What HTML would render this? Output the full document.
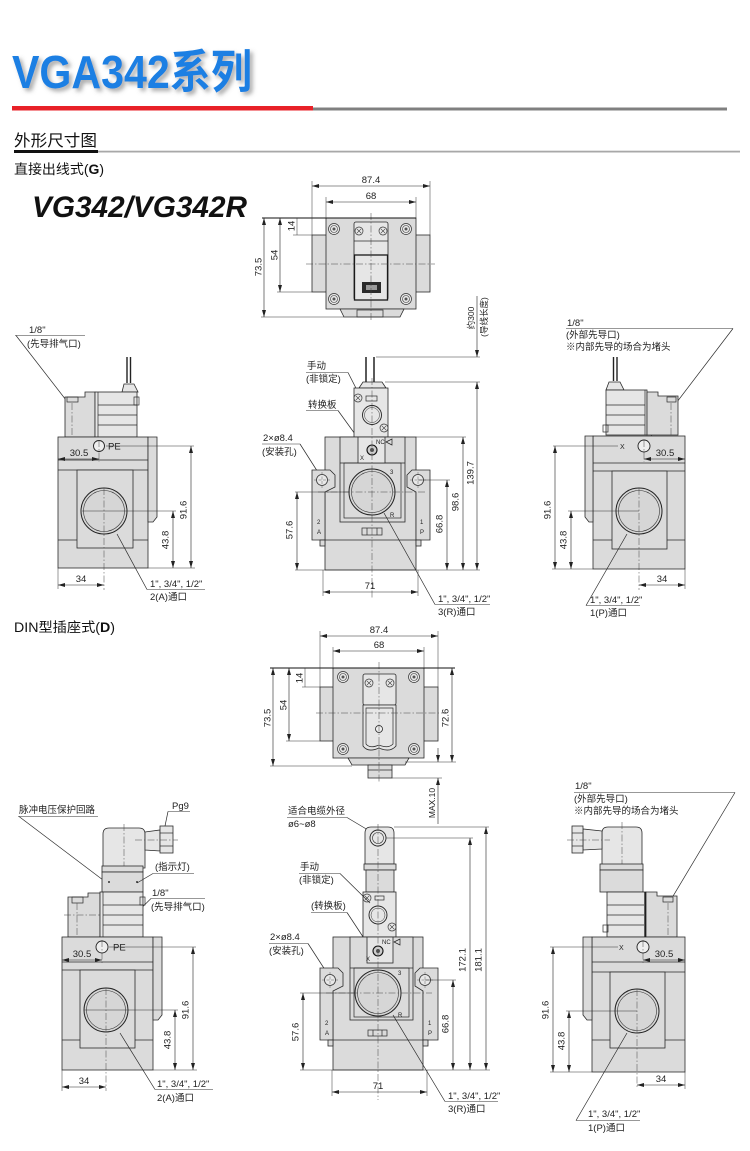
<!DOCTYPE html>
<html><head><meta charset="utf-8">
<style>
html,body{margin:0;padding:0;background:#fff;}
svg{display:block}
.o{fill:#dbdbdb;stroke:#2a2a2a;stroke-width:.8}
.w{fill:#e6e6e6;stroke:#2a2a2a;stroke-width:.8}
.ln{fill:none;stroke:#2a2a2a;stroke-width:.7}
.th{fill:none;stroke:#1a1a1a;stroke-width:1.3}
.d{stroke:#222;stroke-width:.6;fill:none;marker-start:url(#a);marker-end:url(#a)}
.d1{stroke:#222;stroke-width:.6;fill:none;marker-end:url(#a)}
.e{stroke:#333;stroke-width:.5;fill:none}
.c{stroke:#444;stroke-width:.5;fill:none;stroke-dasharray:7 2 1.5 2}
.t{font-family:"Liberation Sans",sans-serif;font-size:9.5px;fill:#222}
.k{font-family:"Liberation Sans","Noto Sans CJK SC",sans-serif;font-size:9.5px;fill:#222}
.s{font-family:"Liberation Sans",sans-serif;font-size:6px;fill:#222}
</style></head><body>
<svg width="750" height="1151" viewBox="0 0 750 1151" xmlns="http://www.w3.org/2000/svg">
<defs>
<marker id="a" markerWidth="7" markerHeight="4" refX="7" refY="2" orient="auto-start-reverse" markerUnits="userSpaceOnUse"><path d="M0,0 L7,2 L0,4 z" fill="#222"/></marker>
<filter id="sh" x="-5%" y="-20%" width="115%" height="160%"><feDropShadow dx="3" dy="3" stdDeviation="2" flood-color="#666" flood-opacity=".55"/></filter>
<g id="scr"><circle r="5.5" fill="#e8e8e8" stroke="#333" stroke-width=".7"/><circle r="3.5" fill="none" stroke="#333" stroke-width=".6"/><circle r="1.5" fill="#555"/></g>
<g id="xs"><circle r="4" fill="#e8e8e8" stroke="#333" stroke-width=".7"/><path d="M-2.2,-2.2 L2.2,2.2 M-2.2,2.2 L2.2,-2.2" stroke="#333" stroke-width=".6"/></g>
<g id="hole"><circle r="5.5" fill="#e8e8e8" stroke="#333" stroke-width=".8"/><path d="M-8,0 H8 M0,-8 V8" stroke="#444" stroke-width=".4" stroke-dasharray="3 1.5"/></g>
</defs>

<!-- HEADER -->
<text x="12" y="88" font-family="Liberation Sans,'Noto Sans CJK SC',sans-serif" font-weight="bold" font-size="46" fill="#1b7fe3" textLength="240" lengthAdjust="spacingAndGlyphs" filter="url(#sh)">VGA342系列</text>
<rect x="12" y="106" width="301" height="4.5" fill="#e82128"/>
<rect x="313" y="107.5" width="414" height="3" fill="#808080"/>
<text x="14" y="146" font-family="Liberation Sans,'Noto Sans CJK SC',sans-serif" font-size="16" fill="#111" textLength="83" lengthAdjust="spacingAndGlyphs">外形尺寸图</text>
<rect x="14" y="150" width="84" height="3" fill="#111"/>
<rect x="98" y="150.7" width="642" height="1.8" fill="#a8a8a8"/>
<text x="14" y="174" font-family="Liberation Sans,'Noto Sans CJK SC',sans-serif" font-size="13.5" fill="#111" textLength="90" lengthAdjust="spacingAndGlyphs">直接出线式(<tspan font-weight="bold">G</tspan>)</text>
<text x="32" y="217" font-family="Liberation Sans,sans-serif" font-weight="bold" font-style="italic" font-size="30" fill="#111" textLength="215" lengthAdjust="spacingAndGlyphs">VG342/VG342R</text>

<!-- ===== G TOP VIEW ===== -->
<rect class="o" x="312" y="235" width="118" height="57"/>
<rect class="o" x="326" y="218" width="90" height="91"/>
<path class="o" d="M340,309 L344,317 L400,317 L404,309 Z"/>
<rect class="ln" x="357" y="310" width="26" height="7"/>
<use href="#scr" x="334" y="229"/><use href="#scr" x="406" y="229"/>
<use href="#scr" x="334" y="299"/><use href="#scr" x="406" y="299"/>
<rect class="w" x="354" y="222" width="34" height="78" rx="2"/>
<line class="ln" x1="354" y1="241" x2="388" y2="241"/>
<use href="#xs" x="359" y="231"/><use href="#xs" x="383" y="231"/>
<rect class="th" x="354.5" y="255" width="33" height="45"/>
<rect x="362" y="282" width="19" height="11" fill="#2a2a2a"/>
<rect x="366" y="285" width="11" height="5" fill="#9a9a9a"/>
<line class="c" x1="371" y1="213" x2="371" y2="321"/>
<line class="c" x1="306" y1="264" x2="435" y2="264"/>
<line x1="262" y1="218" x2="416" y2="218" stroke="#111" stroke-width="1"/>
<line class="e" x1="312" y1="181" x2="312" y2="235"/><line class="e" x1="430" y1="181" x2="430" y2="235"/>
<line class="e" x1="326" y1="197" x2="326" y2="218"/><line class="e" x1="416" y1="197" x2="416" y2="218"/>
<line class="d" x1="312" y1="186" x2="430" y2="186"/>
<line class="d" x1="326" y1="202" x2="416" y2="202"/>
<text class="t" x="371" y="183" text-anchor="middle">87.4</text>
<text class="t" x="371" y="199" text-anchor="middle">68</text>
<line class="e" x1="293" y1="235" x2="312" y2="235"/>
<line class="e" x1="277" y1="292" x2="312" y2="292"/>
<line class="e" x1="261" y1="317" x2="344" y2="317"/>
<line class="d" x1="264" y1="218" x2="264" y2="317"/>
<line class="d" x1="280" y1="218" x2="280" y2="292"/>
<line class="e" x1="297" y1="218" x2="297" y2="235"/>
<text class="t" transform="translate(259,267) rotate(-90)" text-anchor="middle" dominant-baseline="central">73.5</text>
<text class="t" transform="translate(275,255) rotate(-90)" text-anchor="middle" dominant-baseline="central">54</text>
<text class="t" transform="translate(292,226) rotate(-90)" text-anchor="middle" dominant-baseline="central">14</text>

<!-- ===== G LEFT VIEW ===== -->
<text class="t" x="29" y="333">1/8"</text>
<line class="e" x1="15" y1="335.5" x2="85" y2="335.5"/>
<text class="k" x="27" y="347">(先导排气口)</text>
<line class="ln" x1="16" y1="335.5" x2="97" y2="440"/>
<line x1="127" y1="357" x2="127" y2="383" stroke="#222" stroke-width="1.4"/>
<line x1="130.5" y1="357" x2="130.5" y2="383" stroke="#222" stroke-width="1.4"/>
<path class="w" d="M122,392 L124,384 L134,384 L138,392 Z"/>
<path class="o" d="M65,397 L85,397 L85,392 L95,392 L95,437 L65,437 Z"/>
<rect class="ln" x="67" y="397" width="11" height="5"/>
<line class="c" x1="72" y1="403" x2="72" y2="437"/>
<rect class="w" x="95" y="392" width="42" height="45"/>
<line class="ln" x1="98" y1="392" x2="98" y2="437"/>
<line class="ln" x1="98" y1="405" x2="137" y2="405"/><line class="ln" x1="98" y1="415" x2="137" y2="415"/><line class="ln" x1="98" y1="425" x2="137" y2="425"/>
<rect class="ln" x="134" y="397" width="5" height="8"/>
<rect class="o" x="58" y="437" width="90" height="131"/>
<path class="o" d="M148,437 L157,437 L157,517 L153,522 L148,522 Z"/>
<line class="ln" x1="58" y1="460" x2="148" y2="460"/>
<line class="ln" x1="58" y1="470" x2="148" y2="470"/>
<line class="ln" x1="58" y1="540" x2="148" y2="540"/>
<rect class="o" x="77" y="470" width="56" height="78"/>
<circle cx="104" cy="511" r="23" fill="#d6d6d6" stroke="#222" stroke-width="1"/>
<circle cx="104" cy="511" r="20.5" fill="none" stroke="#333" stroke-width=".6"/>
<line class="c" x1="104" y1="488" x2="104" y2="590"/>
<line class="e" x1="82" y1="511" x2="176" y2="511"/>
<circle cx="99" cy="446" r="5.5" fill="#eee" stroke="#222" stroke-width=".9"/>
<line class="c" x1="99" y1="440" x2="99" y2="462"/>
<text class="t" x="108" y="449.5">PE</text>
<line class="e" x1="106" y1="446" x2="194" y2="446"/>
<line class="d" x1="58" y1="459" x2="99" y2="459"/>
<text class="t" x="79" y="456" text-anchor="middle">30.5</text>
<line class="d" x1="191" y1="446" x2="191" y2="568"/>
<line class="d" x1="173" y1="511" x2="173" y2="568"/>
<line class="e" x1="148" y1="568" x2="195" y2="568"/>
<text class="t" transform="translate(184,510) rotate(-90)" text-anchor="middle" dominant-baseline="central">91.6</text>
<text class="t" transform="translate(166,540) rotate(-90)" text-anchor="middle" dominant-baseline="central">43.8</text>
<line class="e" x1="58" y1="568" x2="58" y2="589"/>
<line class="d" x1="58" y1="585" x2="104" y2="585"/>
<text class="t" x="81" y="582" text-anchor="middle">34</text>
<line class="ln" x1="117" y1="534" x2="147" y2="589.5"/>
<line class="e" x1="147" y1="589.5" x2="205" y2="589.5"/>
<text class="t" x="150" y="587">1", 3/4", 1/2"</text>
<text class="k" x="150" y="600">2(A)通口</text>

<!-- ===== G CENTER VIEW ===== -->
<text class="k" x="307" y="369">手动</text>
<line class="e" x1="306" y1="372.5" x2="348" y2="372.5"/>
<text class="k" x="306" y="382">(非锁定)</text>
<line class="ln" x1="348" y1="372.5" x2="361" y2="398"/>
<text class="k" x="308" y="408">转换板</text>
<line class="e" x1="306" y1="410.5" x2="338" y2="410.5"/>
<line class="ln" x1="338" y1="410.5" x2="368" y2="452"/>
<text class="t" x="263" y="441">2×ø8.4</text>
<line class="e" x1="262" y1="444" x2="300" y2="444"/>
<text class="k" x="262" y="455">(安装孔)</text>
<line class="ln" x1="300" y1="444" x2="321" y2="477"/>
<line x1="366" y1="357" x2="366" y2="383" stroke="#222" stroke-width="1.5"/>
<line x1="374" y1="357" x2="374" y2="383" stroke="#222" stroke-width="1.5"/>
<path class="w" d="M359,388 L363,382 L382,382 L386,388 Z"/>
<rect class="w" x="354" y="388" width="34" height="49" stroke-width="1.2"/>
<rect class="ln" x="366" y="396" width="11" height="5"/>
<circle cx="372" cy="415" r="9.5" fill="#e6e6e6" stroke="#222" stroke-width=".9"/>
<circle cx="372" cy="415" r="7.5" fill="none" stroke="#333" stroke-width=".5"/>
<use href="#xs" x="358" y="398"/><use href="#xs" x="384" y="428"/>
<rect class="o" x="325" y="437" width="91" height="133"/>
<path class="o" d="M312,470 L330,470 L335,475 L335,487 L325,492 L325,540 L312,540 Z"/>
<path class="o" d="M430,470 L412,470 L407,475 L407,487 L416,492 L416,540 L430,540 Z"/>
<rect class="o" x="320" y="540" width="5" height="6"/><rect class="o" x="416" y="540" width="5" height="6"/>
<line class="ln" x1="325" y1="540" x2="416" y2="540"/>
<use href="#hole" x="322" y="480"/><use href="#hole" x="418" y="480"/>
<rect class="o" x="340" y="437" width="65" height="85"/>
<line class="ln" x1="340" y1="463" x2="405" y2="463"/>
<rect class="ln" x="344" y="463" width="57" height="55"/>
<rect class="w" x="358" y="437" width="27" height="26"/>
<circle cx="372" cy="450" r="5" fill="#ccc" stroke="#111" stroke-width="1.1"/>
<circle cx="372" cy="450" r="2" fill="#555"/>
<text class="s" x="376" y="444">NC</text>
<text class="s" x="360" y="460">X</text>
<path d="M386,442 L392,439 L392,445 Z" fill="none" stroke="#222" stroke-width=".7"/>
<circle cx="372" cy="492" r="23" fill="#d6d6d6" stroke="#222" stroke-width="1"/>
<circle cx="372" cy="492" r="20.5" fill="none" stroke="#333" stroke-width=".6"/>
<text class="s" x="390" y="474">3</text>
<text class="s" x="390" y="517">R</text>
<text class="s" x="317" y="524">2</text><text class="s" x="317" y="534">A</text>
<text class="s" x="420" y="524">1</text><text class="s" x="420" y="534">P</text>
<rect class="ln" x="362" y="528" width="20" height="7"/>
<line class="ln" x1="367" y1="528" x2="367" y2="535"/><line class="ln" x1="377" y1="528" x2="377" y2="535"/>
<line class="c" x1="372" y1="378" x2="372" y2="598"/>
<line class="c" x1="318" y1="492" x2="426" y2="492"/>
<line class="e" x1="295" y1="492" x2="349" y2="492"/>
<line class="d" x1="297" y1="492" x2="297" y2="570"/>
<text class="t" transform="translate(290,530) rotate(-90)" text-anchor="middle" dominant-baseline="central">57.6</text>
<line class="e" x1="418" y1="480" x2="450" y2="480"/>
<line class="d" x1="447" y1="480" x2="447" y2="570"/>
<text class="t" transform="translate(440,524) rotate(-90)" text-anchor="middle" dominant-baseline="central">66.8</text>
<line class="e" x1="416" y1="437" x2="466" y2="437"/>
<line class="d" x1="463" y1="437" x2="463" y2="570"/>
<text class="t" transform="translate(456,502) rotate(-90)" text-anchor="middle" dominant-baseline="central">98.6</text>
<line class="e" x1="385" y1="382" x2="480" y2="382"/>
<line class="e" x1="376" y1="357" x2="480" y2="357"/>
<line class="d" x1="477" y1="382" x2="477" y2="570"/>
<line class="d1" x1="477" y1="296" x2="477" y2="357"/>
<text class="t" transform="translate(471,473) rotate(-90)" text-anchor="middle" dominant-baseline="central">139.7</text>
<text class="k" transform="translate(471,318) rotate(-90)" text-anchor="middle" dominant-baseline="central" style="font-size:8.5px">约300</text>
<text class="k" transform="translate(484,317) rotate(-90)" text-anchor="middle" dominant-baseline="central" style="font-size:8.5px">(导线长度)</text>
<line class="e" x1="295" y1="570" x2="480" y2="570"/>
<line class="e" x1="323" y1="570" x2="323" y2="596"/><line class="e" x1="418" y1="570" x2="418" y2="596"/>
<line class="d" x1="323" y1="592" x2="418" y2="592"/>
<text class="t" x="370" y="589" text-anchor="middle">71</text>
<line class="ln" x1="384" y1="513" x2="435" y2="604.5"/>
<line class="e" x1="435" y1="604.5" x2="490" y2="604.5"/>
<text class="t" x="438" y="602">1", 3/4", 1/2"</text>
<text class="k" x="438" y="615">3(R)通口</text>

<!-- ===== G RIGHT VIEW ===== -->
<text class="t" x="567" y="326">1/8"</text>
<line class="e" x1="566" y1="328.5" x2="733" y2="328.5"/>
<text class="k" x="566" y="338">(外部先导口)</text>
<text class="k" x="566" y="350">※内部先导的场合为堵头</text>
<line class="ln" x1="733" y1="328.5" x2="648" y2="440"/>
<line x1="613.5" y1="357" x2="613.5" y2="381" stroke="#222" stroke-width="1.4"/>
<line x1="617" y1="357" x2="617" y2="381" stroke="#222" stroke-width="1.4"/>
<path class="w" d="M606,390 L609,382 L620,382 L624,390 Z"/>
<rect class="w" x="606" y="390" width="41" height="45"/>
<line class="ln" x1="606" y1="405" x2="645" y2="405"/><line class="ln" x1="606" y1="415" x2="645" y2="415"/><line class="ln" x1="606" y1="425" x2="645" y2="425"/>
<line class="ln" x1="645" y1="390" x2="645" y2="435"/>
<rect class="ln" x="603" y="425" width="5" height="7"/>
<path class="o" d="M647,392 L658,392 L658,396 L678,396 L678,435 L647,435 Z"/>
<rect class="ln" x="667" y="397" width="9" height="5"/>
<line class="c" x1="671" y1="403" x2="671" y2="436"/>
<rect class="o" x="593" y="436" width="92" height="133"/>
<path class="o" d="M593,436 L585,436 L585,517 L589,522 L593,522 Z"/>
<line class="ln" x1="593" y1="463" x2="685" y2="463"/>
<line class="ln" x1="593" y1="471" x2="685" y2="471"/>
<line class="ln" x1="593" y1="540" x2="685" y2="540"/>
<rect class="o" x="612" y="471" width="55" height="78"/>
<circle cx="639" cy="511" r="23" fill="#d6d6d6" stroke="#222" stroke-width="1"/>
<circle cx="639" cy="511" r="20.5" fill="none" stroke="#333" stroke-width=".6"/>
<line class="c" x1="639" y1="488" x2="639" y2="590"/>
<circle cx="644" cy="446" r="6" fill="#eee" stroke="#222" stroke-width=".9"/>
<line class="c" x1="644" y1="440" x2="644" y2="462"/>
<text class="s" x="620" y="449" style="font-size:7px">X</text>
<line class="e" x1="553" y1="446" x2="618" y2="446"/>
<line class="d" x1="644" y1="459" x2="685" y2="459"/>
<text class="t" x="665" y="456" text-anchor="middle">30.5</text>
<line class="d" x1="555" y1="446" x2="555" y2="569"/>
<line class="e" x1="568" y1="511" x2="639" y2="511"/>
<line class="d" x1="571" y1="511" x2="571" y2="569"/>
<line class="e" x1="552" y1="569" x2="593" y2="569"/>
<text class="t" transform="translate(548,510) rotate(-90)" text-anchor="middle" dominant-baseline="central">91.6</text>
<text class="t" transform="translate(564,540) rotate(-90)" text-anchor="middle" dominant-baseline="central">43.8</text>
<line class="e" x1="685" y1="569" x2="685" y2="589"/>
<line class="d" x1="639" y1="585" x2="685" y2="585"/>
<text class="t" x="662" y="582" text-anchor="middle">34</text>
<line class="ln" x1="627" y1="534" x2="586" y2="605.5"/>
<line class="e" x1="586" y1="605.5" x2="640" y2="605.5"/>
<text class="t" x="590" y="603">1", 3/4", 1/2"</text>
<text class="k" x="590" y="616">1(P)通口</text>

<!-- DIN heading -->
<text x="14" y="632" font-family="Liberation Sans,'Noto Sans CJK SC',sans-serif" font-size="13.5" fill="#111" textLength="101" lengthAdjust="spacingAndGlyphs">DIN型插座式(<tspan font-weight="bold">D</tspan>)</text>

<!-- ===== D TOP VIEW ===== -->
<rect class="o" x="320" y="687" width="118" height="54"/>
<rect class="o" x="333" y="668" width="91" height="90"/>
<path class="o" d="M348,758 L352,765 L405,765 L409,758 Z"/>
<rect class="o" x="368" y="765" width="24" height="13"/>
<line class="ln" x1="368" y1="770" x2="392" y2="770"/>
<use href="#scr" x="343" y="677"/><use href="#scr" x="414" y="677"/>
<use href="#scr" x="343" y="749"/><use href="#scr" x="414" y="749"/>
<rect class="w" x="363" y="674" width="33" height="31" rx="2"/>
<use href="#xs" x="369" y="683"/><use href="#xs" x="390" y="683"/>
<path class="w" d="M363,705 L396,705 L396,746 Q390,753 379,748 Q368,753 363,746 Z" stroke-width="1.2"/>
<path class="ln" d="M366,708 L393,708 L393,744 Q388,749 379,745 Q370,749 366,744 Z"/>
<circle cx="379" cy="729" r="3.5" fill="#eee" stroke="#222" stroke-width=".8"/>
<line class="c" x1="379" y1="662" x2="379" y2="782"/>
<line class="c" x1="316" y1="713" x2="446" y2="713"/>
<line x1="270" y1="668" x2="455" y2="668" stroke="#111" stroke-width="1"/>
<line class="e" x1="320" y1="631" x2="320" y2="687"/><line class="e" x1="438" y1="631" x2="438" y2="687"/>
<line class="e" x1="333" y1="647" x2="333" y2="668"/><line class="e" x1="424" y1="647" x2="424" y2="668"/>
<line class="d" x1="320" y1="636" x2="438" y2="636"/>
<line class="d" x1="333" y1="651" x2="424" y2="651"/>
<text class="t" x="379" y="633" text-anchor="middle">87.4</text>
<text class="t" x="379" y="648" text-anchor="middle">68</text>
<line class="e" x1="302" y1="687" x2="320" y2="687"/>
<line class="e" x1="286" y1="741" x2="320" y2="741"/>
<line class="e" x1="270" y1="766" x2="352" y2="766"/>
<line class="d" x1="273" y1="668" x2="273" y2="766"/>
<line class="d" x1="289" y1="668" x2="289" y2="741"/>
<line class="e" x1="305" y1="668" x2="305" y2="687"/>
<text class="t" transform="translate(268,718) rotate(-90)" text-anchor="middle" dominant-baseline="central">73.5</text>
<text class="t" transform="translate(284,705) rotate(-90)" text-anchor="middle" dominant-baseline="central">54</text>
<text class="t" transform="translate(300,678) rotate(-90)" text-anchor="middle" dominant-baseline="central">14</text>
<line class="e" x1="405" y1="762" x2="456" y2="762"/>
<line class="d" x1="452" y1="668" x2="452" y2="762"/>
<text class="t" transform="translate(446,718) rotate(-90)" text-anchor="middle" dominant-baseline="central">72.6</text>
<line class="e" x1="392" y1="778" x2="442" y2="778"/>
<line class="d1" x1="438" y1="748" x2="438" y2="762"/>
<line class="d1" x1="438" y1="824" x2="438" y2="778"/>
<text class="t" transform="translate(432,803) rotate(-90)" text-anchor="middle" dominant-baseline="central" style="font-size:8.5px">MAX.10</text>

<!-- ===== D LEFT VIEW ===== -->
<text class="k" x="19" y="813">脉冲电压保护回路</text>
<line class="e" x1="18" y1="816.5" x2="98" y2="816.5"/>
<line class="ln" x1="19" y1="816.5" x2="103" y2="880"/>
<text class="t" x="172" y="809">Pg9</text>
<line class="e" x1="168" y1="811.5" x2="190" y2="811.5"/>
<line class="ln" x1="168" y1="811.5" x2="165" y2="826"/>
<path class="w" d="M103,868 L103,834 Q103,828 109,828 L139,828 Q145,828 145,834 L145,868 Z"/>
<path class="w" d="M145,832 L160,830 L160,851 L145,850 Z"/>
<rect class="w" x="160" y="826" width="13" height="27"/>
<line class="ln" x1="160" y1="833" x2="173" y2="833"/><line class="ln" x1="160" y1="846" x2="173" y2="846"/>
<line class="c" x1="135" y1="840" x2="178" y2="840"/>
<line class="c" x1="124" y1="824" x2="124" y2="900"/>
<rect class="o" x="102" y="866" width="41" height="6"/>
<rect class="o" x="102" y="872" width="41" height="20"/>
<circle cx="109" cy="882" r="1" fill="#333"/><circle cx="137" cy="882" r="1" fill="#333"/>
<text class="k" x="155" y="870">(指示灯)</text>
<line class="e" x1="153" y1="873.5" x2="194" y2="873.5"/>
<line class="ln" x1="153" y1="873.5" x2="137" y2="883"/>
<text class="t" x="152" y="896">1/8"</text>
<line class="e" x1="151" y1="898.5" x2="205" y2="898.5"/>
<text class="k" x="151" y="910">(先导排气口)</text>
<line class="ln" x1="151" y1="898.5" x2="107" y2="942"/>
<path class="o" d="M68,897 L88,897 L88,893 L100,893 L100,937 L68,937 Z"/>
<rect class="ln" x="72" y="897" width="11" height="6"/>
<line class="c" x1="77" y1="903" x2="77" y2="937"/>
<line class="c" x1="64" y1="915" x2="112" y2="915"/>
<rect class="w" x="100" y="892" width="43" height="45"/>
<line class="ln" x1="103" y1="892" x2="103" y2="937"/>
<line class="ln" x1="103" y1="905" x2="143" y2="905"/><line class="ln" x1="103" y1="915" x2="143" y2="915"/><line class="ln" x1="103" y1="925" x2="143" y2="925"/>
<rect class="ln" x="140" y="897" width="5" height="8"/>
<rect class="o" x="62" y="937" width="91" height="133"/>
<path class="o" d="M153,937 L162,937 L162,1015 L158,1020 L153,1020 Z"/>
<line class="ln" x1="62" y1="962" x2="153" y2="962"/>
<line class="ln" x1="62" y1="970" x2="153" y2="970"/>
<line class="ln" x1="62" y1="1040" x2="153" y2="1040"/>
<rect class="o" x="80" y="970" width="55" height="78"/>
<circle cx="106" cy="1010" r="22" fill="#d6d6d6" stroke="#222" stroke-width="1"/>
<circle cx="106" cy="1010" r="19.5" fill="none" stroke="#333" stroke-width=".6"/>
<line class="c" x1="106" y1="988" x2="106" y2="1091"/>
<line class="e" x1="84" y1="1010" x2="178" y2="1010"/>
<circle cx="102" cy="947" r="6" fill="#eee" stroke="#222" stroke-width=".9"/>
<line class="c" x1="102" y1="940" x2="102" y2="963"/>
<text class="t" x="113" y="950.5">PE</text>
<line class="e" x1="109" y1="947" x2="196" y2="947"/>
<line class="d" x1="62" y1="960" x2="102" y2="960"/>
<text class="t" x="82" y="957" text-anchor="middle">30.5</text>
<line class="d" x1="193" y1="947" x2="193" y2="1070"/>
<line class="d" x1="175" y1="1010" x2="175" y2="1070"/>
<line class="e" x1="153" y1="1070" x2="197" y2="1070"/>
<text class="t" transform="translate(186,1010) rotate(-90)" text-anchor="middle" dominant-baseline="central">91.6</text>
<text class="t" transform="translate(168,1040) rotate(-90)" text-anchor="middle" dominant-baseline="central">43.8</text>
<line class="e" x1="62" y1="1070" x2="62" y2="1091"/>
<line class="d" x1="62" y1="1087" x2="106" y2="1087"/>
<text class="t" x="84" y="1084" text-anchor="middle">34</text>
<line class="ln" x1="120" y1="1033" x2="155" y2="1089.5"/>
<line class="e" x1="155" y1="1089.5" x2="213" y2="1089.5"/>
<text class="t" x="157" y="1087">1", 3/4", 1/2"</text>
<text class="k" x="157" y="1101">2(A)通口</text>

<!-- ===== D CENTER VIEW ===== -->
<text class="k" x="288" y="814">适合电缆外径</text>
<line class="e" x1="287" y1="817.5" x2="347" y2="817.5"/>
<text class="t" x="288" y="827">ø6~ø8</text>
<line class="ln" x1="347" y1="817.5" x2="373" y2="833"/>
<path class="w" d="M365,864 L365,833 Q365,827 371,827 L388,827 Q394,827 394,833 L394,864 Z"/>
<circle cx="378" cy="838" r="8" fill="#e6e6e6" stroke="#222" stroke-width=".9"/>
<circle cx="378" cy="838" r="5.5" fill="none" stroke="#333" stroke-width=".6"/>
<rect class="o" x="364" y="864" width="32" height="6"/>
<rect class="o" x="366" y="870" width="28" height="22"/>
<line class="e" x1="394" y1="827" x2="489" y2="827"/>
<line class="e" x1="386" y1="838" x2="473" y2="838"/>
<rect class="w" x="363" y="892" width="33" height="45" stroke-width="1.2"/>
<rect class="ln" x="375" y="896" width="9" height="4"/>
<circle cx="378" cy="915" r="9" fill="#e6e6e6" stroke="#222" stroke-width=".9"/>
<circle cx="378" cy="915" r="7" fill="none" stroke="#333" stroke-width=".5"/>
<use href="#xs" x="367" y="898"/><use href="#xs" x="392" y="927"/>
<text class="k" x="300" y="870">手动</text>
<line class="e" x1="299" y1="873.5" x2="340" y2="873.5"/>
<text class="k" x="299" y="883">(非锁定)</text>
<line class="ln" x1="340" y1="873.5" x2="370" y2="903"/>
<text class="k" x="311" y="909">(转换板)</text>
<line class="e" x1="311" y1="912.5" x2="347" y2="912.5"/>
<line class="ln" x1="347" y1="912.5" x2="373" y2="952"/>
<text class="t" x="270" y="940">2×ø8.4</text>
<line class="e" x1="269" y1="943.5" x2="308" y2="943.5"/>
<text class="k" x="269" y="954">(安装孔)</text>
<line class="ln" x1="308" y1="943.5" x2="329" y2="976"/>
<rect class="o" x="333" y="937" width="90" height="133"/>
<path class="o" d="M320,968 L338,968 L343,973 L343,986 L333,991 L333,1040 L320,1040 Z"/>
<path class="o" d="M438,968 L420,968 L415,973 L415,986 L423,991 L423,1040 L438,1040 Z"/>
<rect class="o" x="328" y="1040" width="5" height="6"/><rect class="o" x="423" y="1040" width="5" height="6"/>
<line class="ln" x1="333" y1="1040" x2="423" y2="1040"/>
<use href="#hole" x="330" y="980"/><use href="#hole" x="425" y="980"/>
<rect class="o" x="350" y="937" width="63" height="83"/>
<line class="ln" x1="350" y1="968" x2="413" y2="968"/>
<rect class="ln" x="354" y="968" width="55" height="49"/>
<rect class="w" x="367" y="937" width="26" height="26"/>
<circle cx="378" cy="951" r="5" fill="#ccc" stroke="#111" stroke-width="1.1"/>
<circle cx="378" cy="951" r="2" fill="#555"/>
<text class="s" x="382" y="944">NC</text>
<text class="s" x="366" y="961">X</text>
<path d="M394,942 L400,939 L400,945 Z" fill="none" stroke="#222" stroke-width=".7"/>
<circle cx="378" cy="993" r="23" fill="#d6d6d6" stroke="#222" stroke-width="1"/>
<circle cx="378" cy="993" r="20.5" fill="none" stroke="#333" stroke-width=".6"/>
<text class="s" x="398" y="975">3</text>
<text class="s" x="398" y="1017">R</text>
<text class="s" x="325" y="1025">2</text><text class="s" x="325" y="1035">A</text>
<text class="s" x="428" y="1025">1</text><text class="s" x="428" y="1035">P</text>
<rect class="ln" x="368" y="1030" width="19" height="6"/>
<line class="ln" x1="373" y1="1030" x2="373" y2="1036"/><line class="ln" x1="382" y1="1030" x2="382" y2="1036"/>
<line class="c" x1="378" y1="824" x2="378" y2="1100"/>
<line class="c" x1="326" y1="993" x2="432" y2="993"/>
<line class="e" x1="300" y1="993" x2="355" y2="993"/>
<line class="d" x1="303" y1="993" x2="303" y2="1070"/>
<text class="t" transform="translate(296,1032) rotate(-90)" text-anchor="middle" dominant-baseline="central">57.6</text>
<line class="e" x1="425" y1="980" x2="456" y2="980"/>
<line class="d" x1="453" y1="980" x2="453" y2="1070"/>
<text class="t" transform="translate(446,1024) rotate(-90)" text-anchor="middle" dominant-baseline="central">66.8</text>
<line class="d" x1="470" y1="838" x2="470" y2="1070"/>
<text class="t" transform="translate(463,960) rotate(-90)" text-anchor="middle" dominant-baseline="central">172.1</text>
<line class="d" x1="486" y1="827" x2="486" y2="1070"/>
<text class="t" transform="translate(479,960) rotate(-90)" text-anchor="middle" dominant-baseline="central">181.1</text>
<line class="e" x1="300" y1="1070" x2="490" y2="1070"/>
<line class="e" x1="332" y1="1070" x2="332" y2="1096"/><line class="e" x1="427" y1="1070" x2="427" y2="1096"/>
<line class="d" x1="332" y1="1092" x2="427" y2="1092"/>
<text class="t" x="378" y="1089" text-anchor="middle">71</text>
<line class="ln" x1="393" y1="1015" x2="445" y2="1101.5"/>
<line class="e" x1="445" y1="1101.5" x2="498" y2="1101.5"/>
<text class="t" x="448" y="1099">1", 3/4", 1/2"</text>
<text class="k" x="448" y="1112">3(R)通口</text>

<!-- ===== D RIGHT VIEW ===== -->
<text class="t" x="575" y="789">1/8"</text>
<line class="e" x1="574" y1="792.5" x2="735" y2="792.5"/>
<text class="k" x="574" y="802">(外部先导口)</text>
<text class="k" x="574" y="814">※内部先导的场合为堵头</text>
<line class="ln" x1="735" y1="792.5" x2="648" y2="938"/>
<path class="w" d="M602,865 L602,833 Q602,827 608,827 L636,827 Q642,827 642,833 L642,865 Z"/>
<path class="w" d="M602,831 L583,829 L583,850 L602,849 Z"/>
<rect class="w" x="572" y="826" width="11" height="27"/>
<line class="ln" x1="572" y1="833" x2="583" y2="833"/><line class="ln" x1="572" y1="846" x2="583" y2="846"/>
<line class="c" x1="567" y1="840" x2="610" y2="840"/>
<line class="c" x1="622" y1="822" x2="622" y2="872"/>
<rect class="o" x="600" y="864" width="43" height="6"/>
<rect class="o" x="600" y="870" width="43" height="22"/>
<rect class="w" x="607" y="892" width="39" height="45"/>
<line class="ln" x1="607" y1="905" x2="644" y2="905"/><line class="ln" x1="607" y1="915" x2="644" y2="915"/><line class="ln" x1="607" y1="925" x2="644" y2="925"/>
<line x1="645" y1="892" x2="645" y2="937" stroke="#111" stroke-width="1.3"/>
<rect class="ln" x="603" y="925" width="5" height="7"/>
<path class="o" d="M646,892 L657,892 L657,896 L677,896 L677,937 L646,937 Z"/>
<rect class="ln" x="663" y="897" width="10" height="5"/>
<line class="c" x1="668" y1="903" x2="668" y2="937"/>
<rect class="o" x="592" y="937" width="93" height="135"/>
<path class="o" d="M592,937 L583,937 L583,1015 L587,1020 L592,1020 Z"/>
<line class="ln" x1="592" y1="962" x2="685" y2="962"/>
<line class="ln" x1="592" y1="972" x2="685" y2="972"/>
<line class="ln" x1="592" y1="1040" x2="685" y2="1040"/>
<rect class="o" x="610" y="972" width="55" height="76"/>
<circle cx="637" cy="1011" r="22" fill="#d6d6d6" stroke="#222" stroke-width="1"/>
<circle cx="637" cy="1011" r="19.5" fill="none" stroke="#333" stroke-width=".6"/>
<line class="c" x1="637" y1="989" x2="637" y2="1089"/>
<circle cx="643" cy="947" r="6" fill="#eee" stroke="#222" stroke-width=".9"/>
<line class="c" x1="643" y1="940" x2="643" y2="964"/>
<text class="s" x="619" y="950" style="font-size:7px">X</text>
<line class="e" x1="550" y1="947" x2="618" y2="947"/>
<line class="d" x1="643" y1="960" x2="685" y2="960"/>
<text class="t" x="664" y="957" text-anchor="middle">30.5</text>
<line class="d" x1="553" y1="947" x2="553" y2="1072"/>
<line class="e" x1="566" y1="1011" x2="637" y2="1011"/>
<line class="d" x1="569" y1="1011" x2="569" y2="1072"/>
<line class="e" x1="550" y1="1072" x2="592" y2="1072"/>
<text class="t" transform="translate(546,1010) rotate(-90)" text-anchor="middle" dominant-baseline="central">91.6</text>
<text class="t" transform="translate(562,1041) rotate(-90)" text-anchor="middle" dominant-baseline="central">43.8</text>
<line class="e" x1="685" y1="1072" x2="685" y2="1089"/>
<line class="d" x1="637" y1="1085" x2="685" y2="1085"/>
<text class="t" x="661" y="1082" text-anchor="middle">34</text>
<line class="ln" x1="627" y1="1033" x2="576" y2="1120.5"/>
<line class="e" x1="576" y1="1120.5" x2="640" y2="1120.5"/>
<text class="t" x="588" y="1117">1", 3/4", 1/2"</text>
<text class="k" x="588" y="1131">1(P)通口</text>
</svg>
</body></html>
